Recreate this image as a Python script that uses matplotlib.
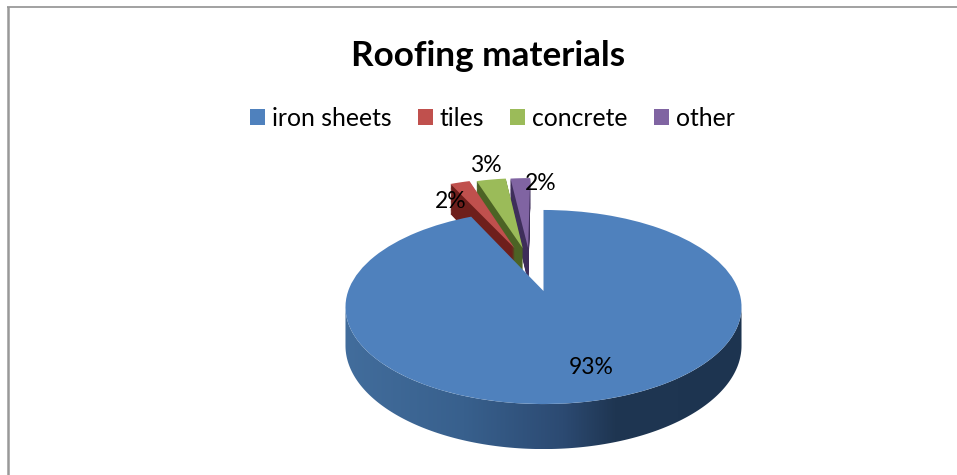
import numpy as np
import matplotlib
matplotlib.use("Agg")
import matplotlib.pyplot as plt
import matplotlib.transforms as mtransforms
from matplotlib.colors import LinearSegmentedColormap
from matplotlib.patches import Polygon, Wedge

materials = ['iron sheets', 'tiles', 'concrete', 'other']
shares = [93, 2, 3, 2]
top_colors = ['#4f81bd', '#c0504d', '#9bbb59', '#8064a2']
side_colors = ['#2e4d75', '#6e1f1c', '#4c6325', '#3e2e5a']

# how the slices are pulled out of the pie, in pie radii
offsets = [(0, 0), (-0.16, 0.49), (-0.115, 0.49), (-0.085, 0.49)]
# drawing order, back to front
layers = [3, 2, 1, 0]

plt.rcParams['font.family'] = ['Lato', 'DejaVu Sans']

CX, CY = 543.5, 291
A, B, K = 195.3, 94.4, 0.165
DEPTH = 37.6


class Tilt(mtransforms.Transform):
    # perspective view of the flat unit pie, drop moves it down the cylinder
    input_dims = 2
    output_dims = 2

    def __init__(self, drop=0):
        super().__init__()
        self.drop = drop

    def transform_non_affine(self, values):
        x, y = np.asarray(values).T
        w = 1 + K * y
        return np.column_stack([CX + A * x / w, CY + (self.drop - B * y) / w])


fig = plt.figure(figsize=(9.57, 4.75), dpi=100)
ax = fig.add_axes([0, 0, 1, 1])

wedges, _, autotexts = ax.pie(shares, colors=top_colors, startangle=90, counterclock=False,
                              autopct='%.0f%%', wedgeprops={'linewidth': 0})

for z, i in enumerate(layers):
    w = wedges[i]
    w.set_center(offsets[i])
    w.set_transform(Tilt() + ax.transData)
    w.set_zorder(2 * z + 2)
    if i == 0:
        continue
    for drop in np.arange(1, DEPTH, 1.0):
        side = Wedge(offsets[i], 1, w.theta1, w.theta2, fc=side_colors[i], lw=0,
                     transform=Tilt(drop) + ax.transData, zorder=2 * z + 1)
        ax.add_patch(side)

# the front wall of the big slice has a left to right shading
limit = np.degrees(np.arcsin(K))
t = np.radians(np.linspace(180 + limit, 360 - limit, 200))
rim = np.column_stack([np.cos(t), np.sin(t)])
upper = Tilt(0).transform_non_affine(rim)
lower = Tilt(DEPTH).transform_non_affine(rim)
strip = Polygon(np.vstack([upper, lower[::-1]]), closed=True, fc='none', lw=0,
                transform=ax.transData)
ax.add_patch(strip)
shade = LinearSegmentedColormap.from_list('shade', [(0, '#426d9c'), (0.3, '#38608d'), (0.55, '#2c4a72'),
                                                    (0.68, '#1f3652'), (1, '#1d3450')])
img = ax.imshow(np.linspace(0, 1, 256)[None, :], cmap=shade, aspect='auto',
                extent=(upper[:, 0].min(), upper[:, 0].max(), lower[:, 1].max(), upper[:, 1].min()),
                zorder=wedges[0].get_zorder() - 0.5)
img.set_clip_path(strip)

label_spots = [(591, 368), (451, 201), (486, 166), (541, 183)]
for txt, spot in zip(autotexts, label_spots):
    txt.set_position(spot)
    txt.set_fontsize(16.5)
    txt.set_color('black')
    txt.set_zorder(20)

ax.text(488, 56, 'Roofing materials', fontsize=25.3, fontweight='bold', ha='center', va='center')
ax.legend(wedges, materials, ncol=4, loc='center', bbox_to_anchor=(492.5, 118), bbox_transform=ax.transData,
          frameon=False, fontsize=17.8, borderpad=0, handlelength=0.61, handleheight=0.61,
          handletextpad=0.28, columnspacing=1.05)

ax.plot([8, 8], [475, 7], color='#999999', lw=1.8, solid_capstyle='butt')
ax.plot([7, 957], [7, 7], color='#888888', lw=1.1, solid_capstyle='butt')

ax.set_aspect('auto')
ax.set_xlim(0, 957)
ax.set_ylim(475, 0)
ax.axis('off')

fig.savefig('out.png', dpi=100)
